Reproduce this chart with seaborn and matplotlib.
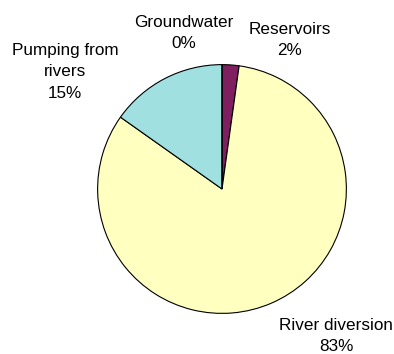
import matplotlib
matplotlib.use("Agg")
import matplotlib.pyplot as plt
import seaborn as sns

# data (clockwise from 12 o'clock)
sources = ["Reservoirs", "River diversion", "Pumping from rivers", "Groundwater"]
shares = [2.2, 82.6, 15.2, 0.0]
pct_labels = ["2%", "83%", "15%", "0%"]
label_text = ["Reservoirs", "River diversion", "Pumping from\nrivers", "Groundwater"]
colors = ["#7f1f5f", "#ffffc0", "#a0e0e0", "#9999ff"]

sns.set_theme(style="white")
plt.rcParams["font.family"] = ["Liberation Sans", "DejaVu Sans"]

W, H = 394, 354
fig = plt.figure(figsize=(W / 100, H / 100), dpi=100)
fig.patch.set_facecolor("white")

# pie centred at (222, 189) px from top-left, radius 125 px
cx, cy, r = 222, 189, 125
ax = fig.add_axes([(cx - r) / W, (H - cy - r) / H, 2 * r / W, 2 * r / H])
ax.pie(shares, colors=colors, startangle=90, counterclock=False,
       wedgeprops=dict(edgecolor="black", linewidth=0.8))
ax.set_xlim(-1.005, 1.005)
ax.set_ylim(-1.005, 1.005)
ax.set_aspect("equal")
ax.axis("off")

# label positions in pixels (centre of text block)
label_pos = {
    "Reservoirs": (290, 40),
    "River diversion": (336, 336),
    "Pumping from rivers": (65, 72),
    "Groundwater": (184, 33),
}
for name, lab, pct in zip(sources, label_text, pct_labels):
    px, py = label_pos[name]
    fig.text(px / W, 1 - py / H, f"{lab}\n{pct}", ha="center", va="center",
             fontsize=12.3, linespacing=1.5, color="black")

fig.savefig("out.png", dpi=100)
